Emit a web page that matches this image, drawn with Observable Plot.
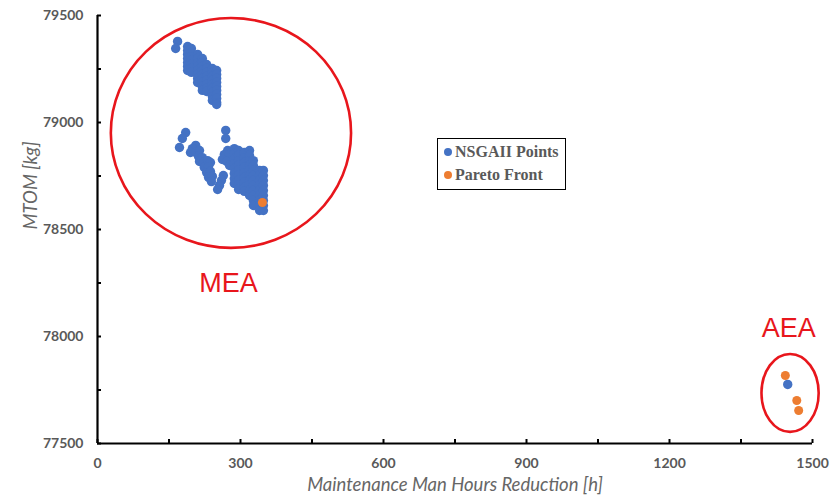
<!DOCTYPE html>
<html><head><meta charset="utf-8">
<script src="https://cdn.jsdelivr.net/npm/d3@7"></script>
<script src="https://cdn.jsdelivr.net/npm/@observablehq/plot@0.6"></script>
<style>
body{margin:0;background:#fff;}
#wrap{position:relative;width:831px;height:502px;}
#legend{position:absolute;left:437px;top:138px;width:127px;height:50px;border:1.6px solid #000;background:#fff;
  font-family:"Liberation Serif","Times New Roman",serif;font-weight:bold;font-size:16px;color:#595959;}
#legend .it{position:absolute;left:6px;display:flex;align-items:center;white-space:nowrap;}
#legend .sw{width:8px;height:8px;border-radius:50%;margin-right:3px;}
</style></head>
<body><div id="wrap"></div>
<script>
// ---- data ----
const nsgaX = [
 168,164,
 189,189,189,189,189,189,189,
 197,197,197,197,197,197,197,
 210,210,210,210,210,210,210,210,
 220,220,220,220,220,220,220,220,220,
 229,229,229,229,229,229,229,229,
 241,241,241,241,241,241,241,241,241,
 250,250,250,250,250,250,250,250,250,250,
 185,178,172,
 269,269,
 206,199,195,206,214,212,220,214,222,231,237,224,233,229,237,233,241,239,
 264,260,256,252,
 273,266,275,262,271,277,
 287,287,287,287,287,287,287,287,
 296,296,296,296,296,296,296,296,296,
 308,308,308,308,308,308,308,308,308,
 319,319,319,319,319,319,319,319,319,319,
 327,327,327,327,327,327,327,327,327,327,
 340,340,340,340,340,340,340,340,340,
 348,348,348,348,348,348,348,348,348,
 1448
];
const nsgaY = [
 79379,79346,
 79355,79336,79318,79299,79280,79262,79243,
 79346,79327,79308,79290,79271,79252,79234,
 79318,79299,79280,79262,79243,79224,79206,79187,
 79299,79280,79262,79243,79224,79206,79187,79168,79150,
 79271,79252,79234,79215,79196,79178,79159,79145,
 79252,79234,79215,79196,79178,79159,79140,79121,79103,
 79243,79224,79206,79187,79168,79150,79131,79112,79093,79084,
 78953,78925,78883,
 78963,78925,
 78893,78878,78860,78860,78869,78841,78836,78818,78813,78822,78813,78790,78794,78766,78771,78743,78748,78724,
 78752,78729,78706,78687,
 78869,78850,78846,78827,78818,78799,
 78878,78855,78832,78808,78785,78762,78738,78715,
 78869,78846,78822,78799,78776,78752,78729,78706,78687,
 78860,78836,78813,78790,78766,78743,78720,78696,78678,
 78869,78846,78822,78799,78776,78752,78729,78706,78682,78659,
 78822,78799,78776,78752,78729,78706,78682,78659,78636,78612,
 78776,78752,78729,78706,78682,78659,78636,78612,78589,
 78776,78752,78729,78706,78682,78659,78636,78612,78589,
 77776
];
const paretoX = [346, 1443, 1467, 1471];
const paretoY = [78626, 77818, 77701, 77654];

const xTickLabels = [0, 300, 600, 900, 1200, 1500];
const xMinorTicks = [0, 150, 300, 450, 600, 750, 900, 1050, 1200, 1350, 1500];
const yTickLabels = [77500, 78000, 78500, 79000, 79500];
const yMinorTicks = [77500, 77750, 78000, 78250, 78500, 78750, 79000, 79250, 79500];

const regionNames = ["MEA", "AEA"];
const regionCx = [281, 1454];
const regionCy = [78949, 77734];
const regionRx = [252, 60];
const regionRy = [537, 182];
const regionLabelX = [275, 1450];
const regionLabelY = [78248, 78037];

const seriesNames = ["NSGAII Points", "Pareto Front"];
const seriesColors = ["#4472C4", "#ED7D31"];

// ---- build ----
const nsga = nsgaX.map((x, i) => ({x, y: nsgaY[i]}));
const pareto = paretoX.map((x, i) => ({x, y: paretoY[i]}));
const regions = regionNames.map((name, i) => ({name, cx: regionCx[i], cy: regionCy[i], rx: regionRx[i], ry: regionRy[i], lx: regionLabelX[i], ly: regionLabelY[i]}));
const red = "#E8161C";
const gray = "#595959";

const plot = Plot.plot({
  width: 831, height: 502,
  marginLeft: 97, marginRight: 19, marginTop: 15, marginBottom: 59,
  style: {fontFamily: "Lato, sans-serif", background: "#fff"},
  x: {domain: [0, 1500]},
  y: {domain: [77500, 79500]},
  marks: [
    Plot.axisX({ticks: xTickLabels, tickSize: 0, tickPadding: 15, fontSize: 14, fontWeight: "bold", fill: gray, label: null, tickFormat: d => String(d)}),
    Plot.axisX({ticks: xMinorTicks, tickSize: 4, dy: -4, text: null, stroke: "#000", strokeWidth: 2, label: null}),
    Plot.axisY({ticks: yTickLabels, tickSize: 0, tickPadding: 14, fontSize: 14, fontWeight: "bold", fill: gray, label: null, tickFormat: d => String(d)}),
    Plot.axisY({ticks: yMinorTicks, tickSize: 4, dx: 4, text: null, stroke: "#000", strokeWidth: 2, label: null}),
    Plot.ruleY([77500], {stroke: "#000", strokeWidth: 2.2}),
    Plot.ruleX([0], {stroke: "#000", strokeWidth: 2.2}),
    Plot.text(["Maintenance Man Hours Reduction [h]"], {frameAnchor: "bottom", dy: 47, fontSize: 18.5, fontStyle: "italic", fill: "#666"}),
    Plot.text(["MTOM [kg]"], {frameAnchor: "left", dx: -66, rotate: -90, fontSize: 18.5, fontStyle: "italic", fill: "#666"}),
    Plot.dot(nsga, {x: "x", y: "y", r: 4.7, fill: seriesColors[0]}),
    Plot.dot(pareto, {x: "x", y: "y", r: 4.5, fill: seriesColors[1]}),
    Plot.text(regions, {x: "lx", y: "ly", text: "name", fill: red, fontSize: 27, fontFamily: "Liberation Sans, Arial, sans-serif"})
  ]
});

// ellipses drawn through the plot's own scales
const sx = plot.scale("x"), sy = plot.scale("y");
const svg = d3.select(plot);
svg.append("g").selectAll("ellipse").data(regions).join("ellipse")
  .attr("cx", d => sx.apply(d.cx))
  .attr("cy", d => sy.apply(d.cy))
  .attr("rx", d => Math.abs(sx.apply(d.cx + d.rx) - sx.apply(d.cx)))
  .attr("ry", d => Math.abs(sy.apply(d.cy + d.ry) - sy.apply(d.cy)))
  .attr("fill", "none").attr("stroke", red).attr("stroke-width", 2.6);

const wrap = document.getElementById("wrap");
wrap.appendChild(plot);

const legend = document.createElement("div");
legend.id = "legend";
seriesNames.forEach((name, i) => {
  const it = document.createElement("div");
  it.className = "it";
  it.style.top = (i === 0 ? 4 : 27) + "px";
  const sw = document.createElement("span");
  sw.className = "sw";
  sw.style.background = seriesColors[i];
  const t = document.createElement("span");
  t.textContent = name;
  it.appendChild(sw); it.appendChild(t);
  legend.appendChild(it);
});
wrap.appendChild(legend);
</script></body></html>
